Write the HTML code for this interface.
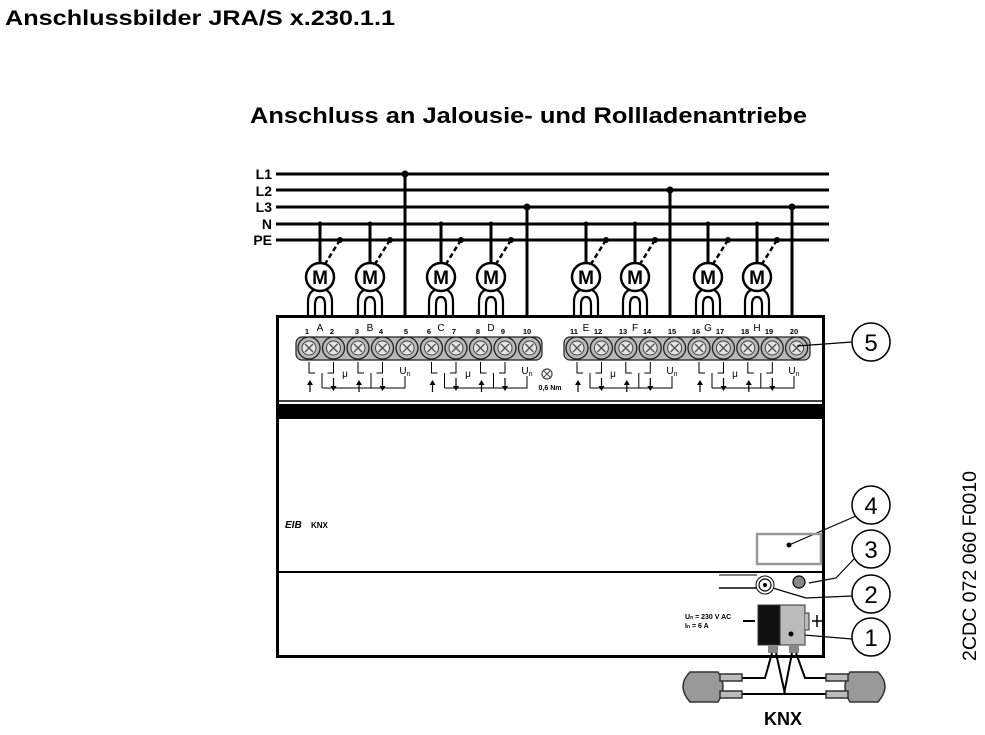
<!DOCTYPE html>
<html><head><meta charset="utf-8"><style>
html,body{margin:0;padding:0;background:#fff;}
svg{display:block;font-family:"Liberation Sans",Arial,sans-serif;}
</style></head><body>
<svg width="985" height="735" viewBox="0 0 985 735" xmlns="http://www.w3.org/2000/svg">
<defs>
<g id="term">
  <circle r="11" fill="#b8b8b8" stroke="#222" stroke-width="1.3"/>
  <circle r="7" fill="#e4e4e4" stroke="#444" stroke-width="1"/>
  <path d="M-4,-4 L4,4 M-4,4 L4,-4" stroke="#555" stroke-width="1.4"/>
</g>
<g id="motor">
  <circle r="14" fill="#fff" stroke="#000" stroke-width="2.5"/>
  <text x="0" y="7" font-size="19" font-weight="bold" text-anchor="middle">M</text>
  <path d="M-12,38 V25 Q-12,16 -6,13 M12,38 V25 Q12,16 6,13 M-5,38 V28 Q-5,20 0,20 Q5,20 5,28 V38" fill="none" stroke="#000" stroke-width="2.2"/>
</g>
<g id="pair">
  <path d="M0,362 V373 H6 M24.5,362 V373 H18.5" fill="none" stroke="#000" stroke-width="1"/>
  <path d="M1,392 V383" stroke="#000" stroke-width="1.2"/><path d="M-2,385 L1,380 L4,385Z"/>
  <path d="M24.5,378 V388" stroke="#000" stroke-width="1.2"/><path d="M21.5,386 L24.5,391 L27.5,386Z"/>
  <path d="M13,373 V388" stroke="#000" stroke-width="1"/>
</g>
</defs>

<text x="5" y="25" font-size="21" font-weight="bold" textLength="390" lengthAdjust="spacingAndGlyphs">Anschlussbilder JRA/S x.230.1.1</text>
<text x="250" y="123" font-size="22" font-weight="bold" textLength="557" lengthAdjust="spacingAndGlyphs">Anschluss an Jalousie- und Rollladenantriebe</text>

<!-- bus lines -->
<g font-size="14" font-weight="bold" text-anchor="end">
<text x="272" y="179">L1</text><text x="272" y="196">L2</text><text x="272" y="212">L3</text><text x="272" y="229">N</text><text x="272" y="245">PE</text>
</g>
<g stroke="#000" stroke-width="3">
<line x1="276" y1="174" x2="829" y2="174"/><line x1="276" y1="190" x2="829" y2="190"/>
<line x1="276" y1="207" x2="829" y2="207"/><line x1="276" y1="224" x2="829" y2="224"/>
<line x1="276" y1="240" x2="829" y2="240"/>
<line x1="405" y1="174" x2="405" y2="316"/><line x1="527" y1="207" x2="527" y2="316"/>
<line x1="670" y1="190" x2="670" y2="316"/><line x1="792" y1="207" x2="792" y2="316"/>
</g>
<g>
<circle cx="405" cy="174" r="3.5"/><circle cx="527" cy="207" r="3.5"/><circle cx="670" cy="190" r="3.5"/><circle cx="792" cy="207" r="3.5"/>
</g>

<!-- motors -->
<g>
<g transform="translate(320,277)"><use href="#motor"/></g>
<g transform="translate(370,277)"><use href="#motor"/></g>
<g transform="translate(441,277)"><use href="#motor"/></g>
<g transform="translate(491,277)"><use href="#motor"/></g>
<g transform="translate(586,277)"><use href="#motor"/></g>
<g transform="translate(635,277)"><use href="#motor"/></g>
<g transform="translate(708,277)"><use href="#motor"/></g>
<g transform="translate(757,277)"><use href="#motor"/></g>
</g>
<g stroke="#000" stroke-width="3">
<line x1="320" y1="224" x2="320" y2="263"/><line x1="370" y1="224" x2="370" y2="263"/>
<line x1="441" y1="224" x2="441" y2="263"/><line x1="491" y1="224" x2="491" y2="263"/>
<line x1="586" y1="224" x2="586" y2="263"/><line x1="635" y1="224" x2="635" y2="263"/>
<line x1="708" y1="224" x2="708" y2="263"/><line x1="757" y1="224" x2="757" y2="263"/>
</g>
<g stroke="#000" stroke-width="2.5" stroke-dasharray="5,3">
<line x1="340" y1="240" x2="325" y2="264"/><line x1="390" y1="240" x2="375" y2="264"/>
<line x1="461" y1="240" x2="446" y2="264"/><line x1="511" y1="240" x2="496" y2="264"/>
<line x1="606" y1="240" x2="591" y2="264"/><line x1="655" y1="240" x2="640" y2="264"/>
<line x1="728" y1="240" x2="713" y2="264"/><line x1="777" y1="240" x2="762" y2="264"/>
</g>
<g>
<circle cx="320" cy="224" r="2.5"/><circle cx="370" cy="224" r="2.5"/><circle cx="441" cy="224" r="2.5"/><circle cx="491" cy="224" r="2.5"/>
<circle cx="586" cy="224" r="2.5"/><circle cx="635" cy="224" r="2.5"/><circle cx="708" cy="224" r="2.5"/><circle cx="757" cy="224" r="2.5"/>
<circle cx="340" cy="240" r="3"/><circle cx="390" cy="240" r="3"/><circle cx="461" cy="240" r="3"/><circle cx="511" cy="240" r="3"/>
<circle cx="606" cy="240" r="3"/><circle cx="655" cy="240" r="3"/><circle cx="728" cy="240" r="3"/><circle cx="777" cy="240" r="3"/>
</g>

<!-- device -->
<rect x="277.5" y="316.5" width="546" height="340" fill="none" stroke="#000" stroke-width="3"/>
<line x1="279" y1="401" x2="823" y2="401" stroke="#000" stroke-width="1.5"/>
<rect x="279" y="404" width="544" height="15" fill="#000"/>
<line x1="279" y1="572" x2="823" y2="572" stroke="#000" stroke-width="2"/>

<!-- terminal strips -->
<rect x="296" y="337" width="246" height="23" rx="6" fill="#b8b8b8" stroke="#222" stroke-width="1.2"/>
<rect x="564" y="337" width="246" height="23" rx="6" fill="#b8b8b8" stroke="#222" stroke-width="1.2"/>
<g transform="translate(0,348)">
<use href="#term" x="309"/><use href="#term" x="333.5"/><use href="#term" x="358"/><use href="#term" x="382.5"/><use href="#term" x="407"/>
<use href="#term" x="431.5"/><use href="#term" x="456"/><use href="#term" x="480.5"/><use href="#term" x="505"/><use href="#term" x="529.5"/>
<use href="#term" x="577"/><use href="#term" x="601.4"/><use href="#term" x="625.8"/><use href="#term" x="650.2"/><use href="#term" x="674.6"/>
<use href="#term" x="699"/><use href="#term" x="723.4"/><use href="#term" x="747.8"/><use href="#term" x="772.2"/><use href="#term" x="796.6"/>
</g>
<g font-size="7.5" font-weight="bold" text-anchor="middle">
<text x="307" y="334">1</text><text x="332" y="334">2</text><text x="357" y="334">3</text><text x="381" y="334">4</text><text x="406" y="334">5</text>
<text x="429" y="334">6</text><text x="454" y="334">7</text><text x="478" y="334">8</text><text x="503" y="334">9</text><text x="527" y="334">10</text>
<text x="574" y="334">11</text><text x="598" y="334">12</text><text x="623" y="334">13</text><text x="647" y="334">14</text><text x="672" y="334">15</text>
<text x="696" y="334">16</text><text x="720" y="334">17</text><text x="745" y="334">18</text><text x="769" y="334">19</text><text x="794" y="334">20</text>
</g>
<g font-size="10" text-anchor="middle">
<text x="320" y="331">A</text><text x="370" y="331">B</text><text x="441" y="331">C</text><text x="491" y="331">D</text>
<text x="586" y="331">E</text><text x="635" y="331">F</text><text x="708" y="331">G</text><text x="757" y="331">H</text>
</g>

<!-- brackets & arrows -->
<use href="#pair" x="309"/><use href="#pair" x="358"/>
<use href="#pair" x="431.5"/><use href="#pair" x="480.5"/>
<use href="#pair" x="577"/><use href="#pair" x="625.8"/>
<use href="#pair" x="699"/><use href="#pair" x="747.8"/>
<g stroke="#000" stroke-width="1" fill="none">
<path d="M322,388 H405 V376"/><path d="M444.5,388 H527 V376"/>
<path d="M590,388 H672 V376"/><path d="M712,388 H794 V376"/>
</g>
<g font-size="10" text-anchor="middle">
<text x="345" y="377">μ</text><text x="468" y="377">μ</text><text x="613" y="377">μ</text><text x="735" y="377">μ</text>
<text x="405" y="374">U<tspan font-size="7" dy="2">n</tspan></text><text x="527" y="374">U<tspan font-size="7" dy="2">n</tspan></text>
<text x="672" y="374">U<tspan font-size="7" dy="2">n</tspan></text><text x="794" y="374">U<tspan font-size="7" dy="2">n</tspan></text>
</g>
<circle cx="547" cy="374" r="5" fill="none" stroke="#444" stroke-width="1.2"/>
<path d="M544,371 L550,377 M544,377 L550,371" stroke="#444" stroke-width="1"/>
<text x="550" y="390" font-size="7" font-weight="bold" text-anchor="middle">0,6 Nm</text>

<!-- logos -->
<text x="285" y="528" font-size="10" font-weight="bold" font-style="italic">EIB</text>
<text x="311" y="528" font-size="8" font-weight="bold">KNX</text>

<!-- callouts -->
<g fill="#fff" stroke="#000" stroke-width="1.5">
<circle cx="871" cy="342" r="19"/><circle cx="871" cy="505" r="19"/><circle cx="871" cy="549" r="19"/>
<circle cx="871" cy="594" r="19"/><circle cx="871" cy="637" r="19"/>
</g>
<g font-size="24" text-anchor="middle">
<text x="871" y="351">5</text><text x="871" y="514">4</text><text x="871" y="558">3</text><text x="871" y="603">2</text><text x="871" y="646">1</text>
</g>
<g stroke="#000" stroke-width="1.2" fill="none">
<line x1="797" y1="346" x2="852" y2="342"/>
<line x1="789" y1="545" x2="856" y2="516"/>
<path d="M809,583 L836,578 L854,559"/>
<path d="M766,586 L806,598 L852,596"/>
<line x1="792" y1="634" x2="852" y2="639"/>
</g>

<!-- LED rect, buttons -->
<rect x="757" y="534" width="64" height="30" fill="none" stroke="#999" stroke-width="2.5"/>
<circle cx="789" cy="545" r="2.5"/>
<line x1="719" y1="575" x2="757" y2="575" stroke="#000" stroke-width="1"/>
<line x1="719" y1="588" x2="757" y2="588" stroke="#000" stroke-width="1.5"/>
<circle cx="765" cy="585" r="9" fill="#fff" stroke="#000" stroke-width="1"/>
<circle cx="765" cy="585" r="6" fill="#fff" stroke="#000" stroke-width="1.2"/>
<circle cx="765" cy="585" r="2"/>
<circle cx="799" cy="582" r="6" fill="#888" stroke="#000" stroke-width="1.2"/>

<!-- KNX connector -->
<text x="685" y="619" font-size="7" font-weight="bold">U<tspan font-size="5">n</tspan> = 230 V AC</text>
<text x="685" y="628" font-size="7" font-weight="bold">I<tspan font-size="5">n</tspan> = 6 A</text>
<line x1="743" y1="621" x2="755" y2="621" stroke="#000" stroke-width="2"/>
<rect x="758" y="605" width="22" height="40" fill="#111" stroke="#333"/>
<rect x="780" y="605" width="25" height="40" fill="#bbb" stroke="#333"/>
<circle cx="791" cy="634" r="2.5"/>
<path d="M805,613 H809 V630 H805" fill="#bbb" stroke="#333"/>
<path d="M812,621 H822 M817,615 V627" stroke="#000" stroke-width="1.5"/>
<rect x="768" y="645" width="10" height="8" fill="#888"/>
<rect x="789" y="645" width="10" height="8" fill="#888"/>
<g stroke="#000" stroke-width="2" fill="none">
<path d="M772,653 L765,678 H735"/><path d="M776,653 L785,694 H735"/>
<path d="M792,653 L784,694 H830"/><path d="M796,653 L805,678 H830"/>
</g>
<g stroke="#333" stroke-width="1.5">
<path d="M690,672 Q676,686 690,702 L718,702 Q728,686 718,672 Z" fill="#999"/>
<path d="M878,672 Q892,686 878,702 L850,702 Q840,686 850,672 Z" fill="#999"/>
<rect x="720" y="674" width="22" height="7" fill="#bbb"/><rect x="720" y="691" width="22" height="7" fill="#bbb"/>
<rect x="826" y="674" width="22" height="7" fill="#bbb"/><rect x="826" y="691" width="22" height="7" fill="#bbb"/>
</g>
<text x="783" y="725" font-size="18" font-weight="bold" text-anchor="middle">KNX</text>

<text transform="translate(976,566) rotate(-90)" font-size="19" text-anchor="middle" textLength="190" lengthAdjust="spacingAndGlyphs">2CDC 072 060 F0010</text>
</svg>
</body></html>
